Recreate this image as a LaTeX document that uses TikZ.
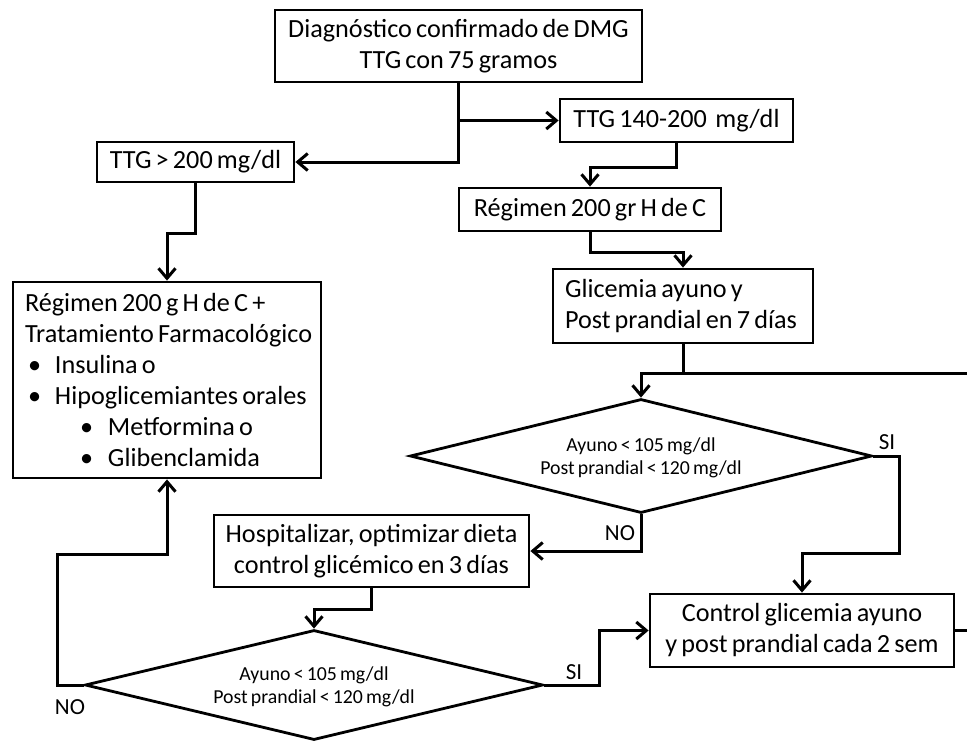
\documentclass[tikz,border=0pt]{standalone}
\usepackage{fontspec}
\setmainfont{Carlito}
\usetikzlibrary{arrows.meta,shapes.geometric}

% slightly tighter word spacing for all node text
\newcommand{\tightwords}{\spaceskip=0.16em plus 0.08em minus 0.04em\relax}

\begin{document}
\begin{tikzpicture}[x=1pt,y=-1pt,
  every node/.style={font=\fontsize{26.2}{31}\selectfont\tightwords},
  box/.style={draw,line width=2.8pt,rectangle,inner sep=0pt,align=center},
  lbox/.style={box,align=left},
  dia/.style={draw,line width=2.8pt,diamond,inner sep=0pt},
  dtext/.style={font=\fontsize{19.8}{23.5}\selectfont\tightwords,align=center},
  tag/.style={font=\fontsize{23}{26}\selectfont,inner sep=0pt},
  link/.style={line width=3pt},
  arr/.style={link,-{Straight Barb[length=10pt,width=17pt]}}]

\useasboundingbox (0,0) rectangle (967,740);

% boxes
\node[box,minimum width=367pt,minimum height=72pt] (top) at (458.5,46)
  {Diagnóstico confirmado de DMG\\TTG con 75 gramos};
\node[box,minimum width=233pt,minimum height=43pt] (ttgm) at (676.5,120.5)
  {TTG 140-200\ \ mg/dl};
\node[box,minimum width=197pt,minimum height=40pt] (ttgh) at (195.5,162)
  {TTG > 200 mg/dl};
\node[box,minimum width=262pt,minimum height=43pt] (reg) at (590,209.5)
  {Régimen 200 gr H de C};
\node[lbox,text width=236pt,inner xsep=12pt,minimum height=74pt] (glic) at (683,306)
  {\tightwords\mbox{Glicemia ayuno y}\\\mbox{Post prandial en 7 días}};
\node[lbox,text width=284pt,inner xsep=12pt,minimum height=196pt] (trat) at (167,380)
  {\tightwords\mbox{Régimen 200 g H de C +}\\
   \mbox{Tratamiento Farmacológico}\\
   \mbox{\hspace*{3pt}\makebox[27pt][l]{\textbullet}Insulina o}\\
   \mbox{\hspace*{3pt}\makebox[27pt][l]{\textbullet}Hipoglicemiantes orales}\\
   \mbox{\hspace*{55pt}\makebox[28pt][l]{\textbullet}Metformina o}\\
   \mbox{\hspace*{55pt}\makebox[28pt][l]{\textbullet}Glibenclamida}};
\node[box,minimum width=315pt,minimum height=72pt] (hosp) at (371.5,551)
  {Hospitalizar, optimizar dieta\\control glicémico en 3 días};
\node[box,minimum width=304pt,minimum height=73pt] (ctrl) at (802,630.5)
  {Control glicemia ayuno\\y post prandial cada 2 sem};

% decisions
\node[dia,minimum width=462pt,minimum height=114pt] (d1) at (641,456) {};
\node[dtext] (d1t) at (641,458) {Ayuno < 105 mg/dl\\Post prandial < 120 mg/dl};
\node[dia,minimum width=458pt,minimum height=110pt] (d2) at (314,685) {};
\node[dtext] (d2t) at (314,687) {Ayuno < 105 mg/dl\\Post prandial < 120 mg/dl};

% branch labels
\node[tag] (si1) at (887,442) {SI};
\node[tag] (no1) at (620,533) {NO};
\node[tag] (si2) at (574,672) {SI};
\node[tag] (no2) at (70,707) {NO};

% junction and outgoing points
\coordinate (e1) at (967,373);
\coordinate (e2) at (967,630.5);
\coordinate (j1) at (899,553);
\coordinate (j2) at (57,554);

% connectors
\draw[arr] (top.south) |- (ttgh.east);
\draw[arr] (top.south |- ttgm.west) -- (ttgm.west);
\draw[arr] (ttgm.south) -- ++(0,24) -| (reg.north);
\draw[arr] (ttgh.south) -- ++(0,50) -| (trat.north);
\draw[arr] (reg.south) -- ++(0,20) -| (glic.north);
\draw[link] (glic.south) -- (glic.south |- e1);
\draw[arr] (e1) -| (d1.north);
\draw[arr] (d1.east) -| (j1) -| (ctrl.north);
\draw[arr] (d1.south) |- (hosp.east);
\draw[arr] (hosp.south) -- ++(0,21) -| (d2.north);
\draw[arr] (d2.west) -| (j2) -| (trat.south);
\draw[arr] (d2.east) -- ++(55,0) |- (ctrl.west);
\draw[link] (ctrl.east) -- (e2);
\end{tikzpicture}
\end{document}
